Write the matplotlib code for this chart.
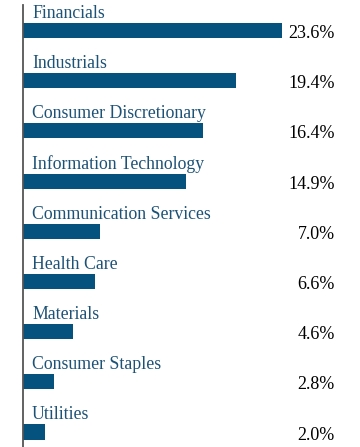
import matplotlib
matplotlib.use("Agg")
import matplotlib.pyplot as plt
from matplotlib.transforms import blended_transform_factory, offset_copy

categories = ["Financials", "Industrials", "Consumer Discretionary", "Information Technology",
              "Communication Services", "Health Care", "Materials", "Consumer Staples", "Utilities"]
values = [23.6, 19.4, 16.4, 14.9, 7.0, 6.6, 4.6, 2.8, 2.0]
value_labels = ["23.6%", "19.4%", "16.4%", "14.9%", "7.0%", "6.6%", "4.6%", "2.8%", "2.0%"]

W, H = 360, 447
fig = plt.figure(figsize=(W/100, H/100), dpi=100)
left = 23/W
ax = fig.add_axes([left, 0, 1-left, (H-5)/H])

bar_color = "#04527d"
label_color = "#1d5277"
pos = list(range(len(categories)))
ax.barh(pos, values, height=0.30, color=bar_color, left=0)

spacing = (432-30.5)/8
ax.set_ylim(8 + (447-432)/spacing, -(30.5-5)/spacing)
ax.set_xlim(0, (W-23)/10.97)

font = "Liberation Serif"
trans_lbl = offset_copy(ax.transData, fig=fig, x=9*0.72, y=0, units="points")
xt = blended_transform_factory(fig.transFigure, ax.transData)
for i, (c, v, vl) in enumerate(zip(categories, values, value_labels)):
    ax.text(0, i - 0.34, c, transform=trans_lbl, ha="left", va="center",
            fontsize=12.8, color=label_color, family=font)
    ax.text(335/W, i + 0.06, vl, transform=xt, ha="right", va="center",
            fontsize=13, color="black", family=font)

for s in ["top", "right", "bottom"]:
    ax.spines[s].set_visible(False)
ax.spines["left"].set_color("#555555")
ax.spines["left"].set_linewidth(1.3)
ax.set_xticks([])
ax.set_yticks([])
ax.patch.set_alpha(0)

fig.savefig("out.png", dpi=100)
